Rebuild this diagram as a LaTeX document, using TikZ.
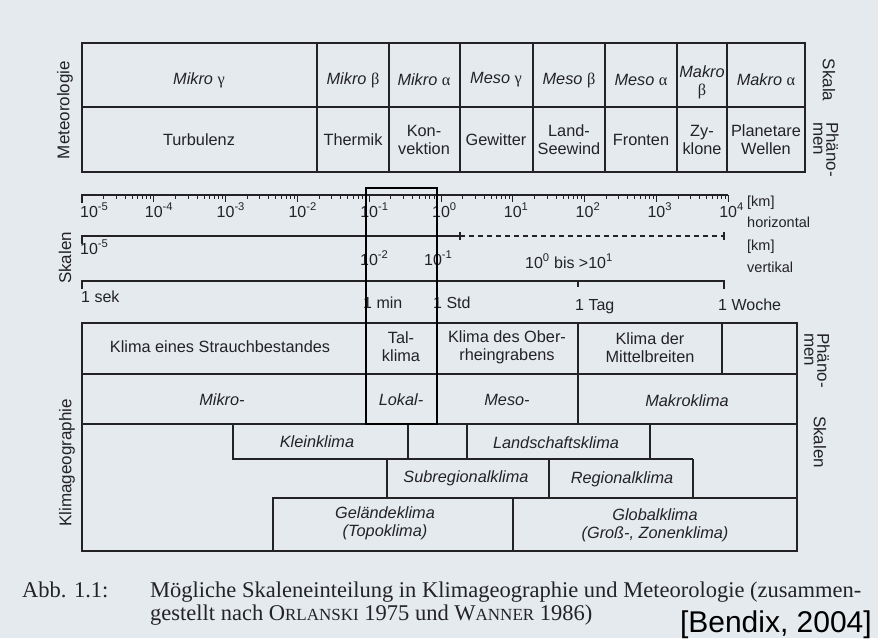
\documentclass[tikz,border=0pt]{standalone}
\usepackage{fontspec}
\setmainfont{Liberation Sans}
\newfontfamily\capfont{Liberation Serif}
\newfontfamily\grkfont{Liberation Serif}
\usetikzlibrary{positioning}
\definecolor{paper}{RGB}{229,234,238}
\definecolor{ink}{RGB}{35,35,38}
\newcommand{\gr}[1]{{\grkfont\upshape #1}}
\newcommand{\dec}[1]{\makebox[0pt][c]{10\rlap{\textsuperscript{#1}}}}
\newcommand{\fsc}[2]{#1{\fontsize{17}{17}\selectfont #2}}

\begin{document}
\begin{tikzpicture}[x=1pt,y=-1pt,
  rule/.style={ink,line width=1.3pt},
  cell/.style={font=\fontsize{16.3}{18}\selectfont,align=center,inner sep=0pt,text=ink},
  ital/.style={font=\fontsize{16.3}{18}\selectfont\itshape,align=center,inner sep=0pt,text=ink},
  scal/.style={font=\fontsize{16}{18}\selectfont,inner sep=0pt,text=ink,anchor=base},
  unit/.style={font=\fontsize{14.5}{17}\selectfont,inner sep=0pt,text=ink,anchor=west},
  side/.style={font=\fontsize{17}{13}\selectfont,inner sep=0pt,text=ink,align=left},
  capt/.style={font=\capfont\fontsize{22.5}{23}\selectfont,inner sep=0pt,anchor=base west,text=ink}]
  \useasboundingbox (0,0) rectangle (878,638);
  \fill[paper] (0,0) rectangle (878,638);

  % Meteorologie
  \draw[rule] (82,43) rectangle (805,172);
  \draw[rule] (82,107) -- (805,107);
  \foreach \xv in {317,389,460,533,605,677,727}
    \draw[rule] (\xv,43) -- (\xv,172);
  \node[side,rotate=90] (met) at (65,110) {Meteorologie};
  \node[side,rotate=-90] (skala) at (829,80) {Skala};
  \node[side,rotate=-90,anchor=west] (phm) at (826,122) {Phäno-\\men};
  \node[ital] (mkg) at (199,80) {Mikro \gr{γ}};
  \node[ital] (mkb) at (353,80) {Mikro \gr{β}};
  \node[ital] (mka) at (424,80) {Mikro \gr{α}};
  \node[ital] (msg) at (496,80) {Meso \gr{γ}};
  \node[ital] (msb) at (569,80) {Meso \gr{β}};
  \node[ital] (msa) at (641,80) {Meso \gr{α}};
  \node[ital] (mab) at (702,82) {Makro\\\gr{β}};
  \node[ital] (maa) at (766,80) {Makro \gr{α}};
  \node[cell] (turb) at (199,140) {Turbulenz};
  \node[cell] (therm) at (353,140) {Thermik};
  \node[cell] (konv) at (424,140) {Kon-\\vektion};
  \node[cell] (gew) at (496,140) {Gewitter};
  \node[cell] (land) at (569,140) {Land-\\Seewind};
  \node[cell] (front) at (641,140) {Fronten};
  \node[cell] (zykl) at (702,140) {Zy-\\klone};
  \node[cell] (plan) at (766,140) {Planetare\\Wellen};

  % Skalen: horizontal (log)
  \draw[rule] (82,203) -- (82,195) -- (728,195);
  \foreach \k in {0,...,8}{
    \foreach \m in {2,...,9}
      \draw[ink,line width=0.8pt] ({82+71.8*(\k+log10(\m))},195) -- ++(0,4);
    \draw[ink,line width=1pt] ({82+71.8*(\k+1)},195) -- ++(0,7);
  }
  \node[scal,anchor=base west] (h0) at (80,217) {10\textsuperscript{-5}};
  \node[scal] (h1) at (153.8,217) {\dec{-4}};
  \node[scal] (h2) at (225.6,217) {\dec{-3}};
  \node[scal] (h3) at (297.4,217) {\dec{-2}};
  \node[scal] (h4) at (369.2,217) {\dec{-1}};
  \node[scal] (h5) at (441,217) {\dec{0}};
  \node[scal] (h6) at (512.8,217) {\dec{1}};
  \node[scal] (h7) at (584.6,217) {\dec{2}};
  \node[scal] (h8) at (656.4,217) {\dec{3}};
  \node[scal] (h9) at (728.2,217) {\dec{4}};
  \node[unit] (km1) at (747,203) {[km]};
  \node[unit] (hor) at (747,222) {horizontal};

  % Skalen: vertikal
  \draw[rule] (82,244) -- (82,236) -- (460,236);
  \draw[rule,dash pattern=on 5pt off 4pt] (460,236) -- (724,236);
  \draw[rule] (460,232) -- (460,240);
  \draw[rule] (724,232) -- (724,240);
  \node[scal,anchor=base west] (v0) at (80,254) {10\textsuperscript{-5}};
  \node[scal] (v1) at (369,265) {\dec{-2}};
  \node[scal] (v2) at (433,265) {\dec{-1}};
  \node[scal] (v3) at (569,268) {10\textsuperscript{0} bis >10\textsuperscript{1}};
  \node[unit] (km2) at (747,247) {[km]};
  \node[unit] (vert) at (747,267) {vertikal};

  % Skalen: Zeit
  \draw[rule] (82,289) -- (82,281) -- (724,281) -- (724,289);
  \draw[rule] (578,281) -- (578,287);
  \node[scal,anchor=base west] (t0) at (81,302) {1 sek};
  \node[scal,anchor=base west] (t1) at (363,308) {1 min};
  \node[scal,anchor=base west] (t2) at (433,308) {1 Std};
  \node[scal,anchor=base west] (t3) at (575,310) {1 Tag};
  \node[scal,anchor=base west] (t4) at (718,310) {1 Woche};
  \node[side,rotate=90] (skl) at (65,258) {Skalen};

  % Klimageographie
  \draw[rule] (82,323) rectangle (797,551);
  \draw[rule] (82,374) -- (797,374);
  \draw[rule] (82,424) -- (797,424);
  \draw[rule] (233,424) -- (233,459) -- (693,459);
  \draw[rule] (273,551) -- (273,498) -- (797,498);
  \foreach \xv in {578,722}
    \draw[rule] (\xv,323) -- (\xv,374);
  \draw[rule] (578,374) -- (578,424);
  \foreach \xv in {408,467,650}
    \draw[rule] (\xv,424) -- (\xv,459);
  \foreach \xv in {387,549,693}
    \draw[rule] (\xv,459) -- (\xv,498);
  \draw[rule] (513,498) -- (513,551);
  \node[side,rotate=90] (klg) at (67,463) {Klimageographie};
  \node[side,rotate=-90,anchor=west] (phk) at (817,333) {Phäno-\\men};
  \node[side,rotate=-90] (skk) at (820,442) {Skalen};
  \node[cell] (strauch) at (220,347) {Klima eines Strauchbestandes};
  \node[cell] (tal) at (401,347) {Tal-\\klima};
  \node[cell] (ober) at (507,347) {Klima des Ober-\\rheingrabens};
  \node[cell] (mittel) at (650,348) {Klima der\\Mittelbreiten};
  \node[ital] (mikro) at (222,400) {Mikro-};
  \node[ital] (lokal) at (401,400) {Lokal-};
  \node[ital] (meso) at (507,400) {Meso-};
  \node[ital] (makro) at (687,401) {Makroklima};
  \node[ital] (klein) at (317,442) {Kleinklima};
  \node[ital] (landsch) at (556,443) {Landschaftsklima};
  \node[ital] (subreg) at (466,478) {Subregionalklima};
  \node[ital] (reg) at (622,479) {Regionalklima};
  \node[ital] (gelaende) at (385,523) {Geländeklima\\(Topoklima)};
  \node[ital] (global) at (655,525) {Globalklima\\(Groß-, Zonenklima)};

  % Ausschnitt
  \draw[black,line width=2.6pt] (366,188) rectangle (437,424);

  % Bildunterschrift
  \node[capt] (abb) at (22,597) {Abb. 1.1:};
  \node[capt] (capa) at (150,597) {Mögliche Skaleneinteilung in Klimageographie und Meteorologie (zusammen-};
  \node[capt] (capb) at (150,620) {gestellt nach \fsc{O}{RLANSKI} 1975 und \fsc{W}{ANNER} 1986)};
  \node[font=\fontsize{30}{30}\selectfont,inner sep=0pt,anchor=base east] (src) at (872,632) {[Bendix, 2004]};
\end{tikzpicture}
\end{document}
